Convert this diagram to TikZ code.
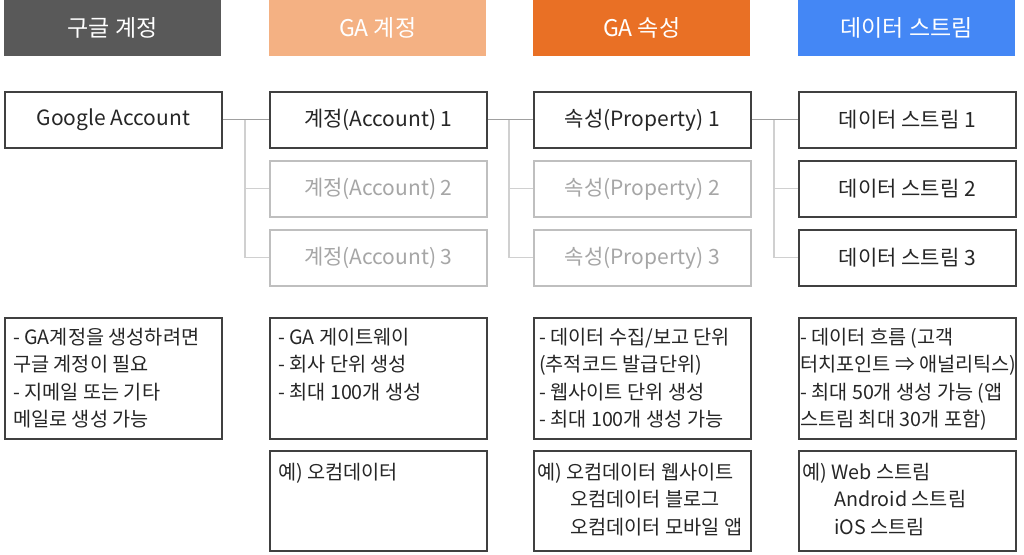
\documentclass[tikz,border=0pt]{standalone}
\usepackage{fontspec}
\setmainfont{Noto Sans CJK KR}
\definecolor{hdA}{HTML}{595959}
\definecolor{hdB}{HTML}{F4B183}
\definecolor{hdC}{HTML}{E97025}
\definecolor{hdD}{HTML}{4487F5}
\definecolor{bdr}{HTML}{404040}
\definecolor{gbdr}{HTML}{BFBFBF}
\definecolor{gtxt}{HTML}{A6A6A6}
\definecolor{lnA}{HTML}{A0A0A0}
\definecolor{lnB}{HTML}{D0D0D0}
\begin{document}
\begin{tikzpicture}[x=1pt,y=-1pt,
  hdr/.style={anchor=north west,minimum width=217pt,minimum height=56pt,inner sep=0pt,text=white,font=\fontsize{23}{27}\selectfont},
  ibox/.style={anchor=north west,draw=bdr,line width=1.6pt,minimum width=217pt,minimum height=56pt,inner sep=0pt,font=\fontsize{21}{25}\selectfont,text=black!85},
  gbox/.style={ibox,draw=gbdr,text=gtxt},
  frame/.style={anchor=north west,draw=bdr,line width=1.6pt,minimum width=217pt,inner sep=0pt},
  desc/.style={anchor=north west,align=left,inner sep=0pt,font=\fontsize{19.7}{27.3}\selectfont,text=black!85},
  conA/.style={draw=lnA,line width=1.3pt},
  conB/.style={draw=lnB,line width=1.3pt}]
\path[use as bounding box,fill=white] (0,0) rectangle (1024,554);
% headers
\node[hdr,fill=hdA] (h1) at (4,0) {구글 계정};
\node[hdr,fill=hdB] (h2) at (269,0) {GA 계정};
\node[hdr,fill=hdC] (h3) at (533,0) {GA 속성};
\node[hdr,fill=hdD] (h4) at (798,0) {데이터 스트림};
% row boxes
\node[ibox] (g1) at (4,91) {Google Account};
\node[ibox] (a1) at (269,91) {계정(Account) 1};
\node[gbox] (a2) at (269,160) {계정(Account) 2};
\node[gbox] (a3) at (269,229) {계정(Account) 3};
\node[ibox] (p1) at (533,91) {속성(Property) 1};
\node[gbox] (p2) at (533,160) {속성(Property) 2};
\node[gbox] (p3) at (533,229) {속성(Property) 3};
\node[ibox] (s1) at (798,91) {데이터 스트림 1};
\node[ibox] (s2) at (798,160) {데이터 스트림 2};
\node[ibox] (s3) at (798,229) {데이터 스트림 3};
% connectors
\coordinate (ja) at (245,119);
\coordinate (jp) at (509,119);
\coordinate (js) at (774,119);
\draw[conB] (ja) |- (a3.west);
\draw[conB] (ja |- a2.west) -- (a2.west);
\draw[conB] (jp) |- (p3.west);
\draw[conB] (jp |- p2.west) -- (p2.west);
\draw[conB] (js) |- (s3.west);
\draw[conB] (js |- s2.west) -- (s2.west);
\draw[conA] (g1.east) -- (a1.west);
\draw[conA] (a1.east) -- (p1.west);
\draw[conA] (p1.east) -- (s1.west);
% description frames
\node[frame,minimum height=121pt] (dg) at (4,317) {};
\node[frame,minimum height=121pt] (da) at (269,317) {};
\node[frame,minimum height=121pt] (dp) at (533,317) {};
\node[frame,minimum height=121pt] (ds) at (798,317) {};
\node[frame,minimum height=100pt] (ea) at (269,450) {};
\node[frame,minimum height=100pt] (ep) at (533,450) {};
\node[frame,minimum height=100pt] (es) at (798,450) {};
% texts
\node[desc] (tg) at (13,328) {- GA계정을 생성하려면\\구글 계정이 필요\\- 지메일 또는 기타\\메일로 생성 가능};
\node[desc] (ta) at (278,328) {- GA 게이트웨이\\- 회사 단위 생성\\- 최대 100개 생성};
\node[desc] (tp) at (539,328) {- 데이터 수집/보고 단위\\(추적코드 발급단위)\\- 웹사이트 단위 생성\\- 최대 100개 생성 가능};
\node[desc] (ts) at (800,328) {- 데이터 흐름 (고객\\터치포인트 ⇒ 애널리틱스)\\- 최대 50개 생성 가능 (앱\\스트림 최대 30개 포함)};
\node[desc] (xa) at (278,463) {예) 오컴데이터};
\node[desc] (xp) at (537,463) {예) 오컴데이터 웹사이트\\\hspace*{33pt}오컴데이터 블로그\\\hspace*{33pt}오컴데이터 모바일 앱};
\node[desc] (xs) at (802,463) {예) Web 스트림\\\hspace*{32pt}Android 스트림\\\hspace*{32pt}iOS 스트림};
\end{tikzpicture}
\end{document}
